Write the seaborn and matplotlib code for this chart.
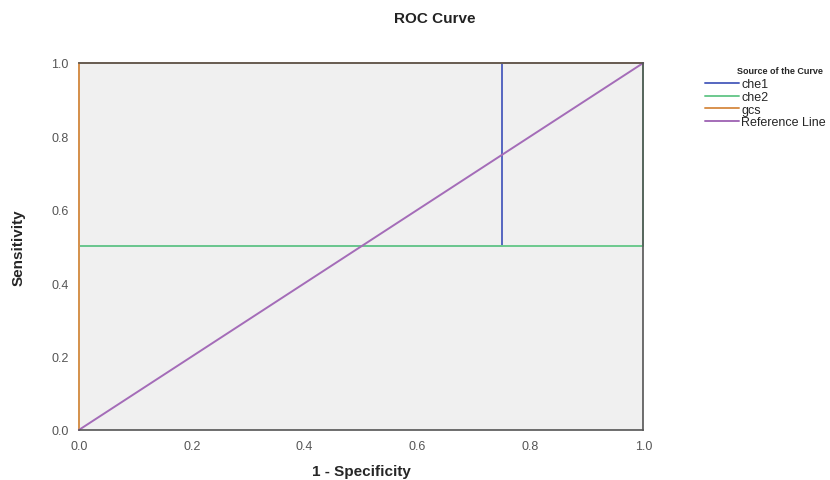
import pandas as pd
import matplotlib
matplotlib.use("Agg")
import matplotlib.pyplot as plt
import seaborn as sns

# ROC curve points (1 - specificity, sensitivity)
che1_x = [0.0, 0.0, 0.75, 0.75, 1.0]
che1_y = [0.0, 0.5, 0.5, 1.0, 1.0]
che2_x = [0.0, 0.0, 1.0, 1.0]
che2_y = [0.0, 0.5, 0.5, 1.0]
gcs_x = [0.0, 0.0, 1.0]
gcs_y = [0.0, 1.0, 1.0]
ref_x = [0.0, 1.0]
ref_y = [0.0, 1.0]

curve_names = ["che1", "che2", "gcs", "Reference Line"]
curve_colors = ["#5566c0", "#6cc98e", "#d8924e", "#a46cb8"]
ticks = [0.0, 0.2, 0.4, 0.6, 0.8, 1.0]

frames = []
for name, xs, ys in zip(curve_names,
                        [che1_x, che2_x, gcs_x, ref_x],
                        [che1_y, che2_y, gcs_y, ref_y]):
    frames.append(pd.DataFrame({"x": xs, "y": ys, "curve": name}))
df = pd.concat(frames, ignore_index=True)

sns.set_style("white")
plt.rcParams["font.family"] = ["Liberation Sans", "DejaVu Sans"]

fig = plt.figure(figsize=(8.3, 4.81), dpi=100)
ax = fig.add_axes([0.095, 0.104, 0.68, 0.763])
ax.set_facecolor("#f0f0f0")

sns.lineplot(data=df, x="x", y="y", hue="curve", hue_order=curve_names,
             palette=curve_colors, sort=False, estimator=None, units="curve",
             linewidth=1.4, ax=ax, legend=True)

# gcs runs along the left edge; in the original it sits over the left spine
for line in ax.get_lines():
    line.set_clip_on(False)
    line.set_zorder(3)

ax.set_xlim(0, 1)
ax.set_ylim(0, 1)
ax.set_xticks(ticks)
ax.set_yticks(ticks)
ax.set_xticklabels([f"{t:.1f}" for t in ticks], color="#555555", fontsize=9)
ax.set_yticklabels([f"{t:.1f}" for t in ticks], color="#555555", fontsize=9)
ax.tick_params(direction="out", length=4, width=1, color="#444444")
for name, s in ax.spines.items():
    s.set_color("#555555")
    s.set_linewidth(1.2)
    s.set_zorder(2 if name == "left" else 5)

ax.set_xlabel("1 - Specificity", fontsize=11, fontweight="bold", labelpad=8)
ax.set_ylabel("Sensitivity", fontsize=11, fontweight="bold", labelpad=18)
fig.text(0.524, 0.96, "ROC Curve", ha="center", va="center",
         fontsize=11, fontweight="bold", color="#222222")

handles, labels = ax.get_legend_handles_labels()
ax.get_legend().remove()
leg = fig.legend(handles, labels, title="Source of the Curve",
                 loc="upper left", bbox_to_anchor=(0.842, 0.868),
                 frameon=False, fontsize=9, title_fontsize=6.5,
                 handlelength=2.7, handletextpad=0.2, labelspacing=0.05,
                 borderpad=0, alignment="left")
leg.get_title().set_fontweight("bold")
leg.get_title().set_position((32, 3))

fig.savefig("out.png", dpi=100)
